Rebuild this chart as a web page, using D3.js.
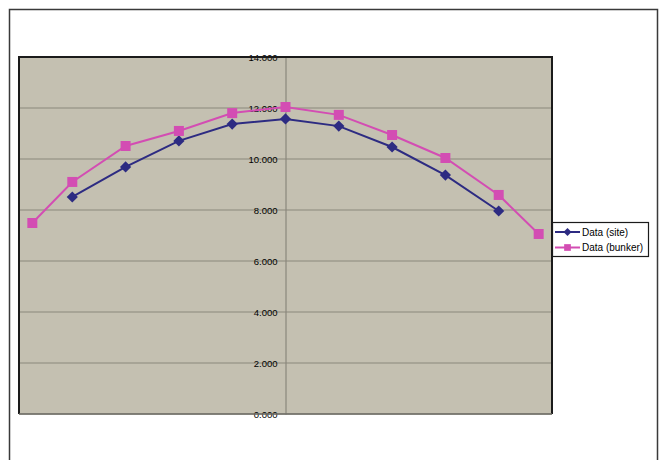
<!DOCTYPE html>
<html>
<head>
<meta charset="utf-8">
<script src="https://cdn.jsdelivr.net/npm/d3@7"></script>
<style>
  html, body { margin: 0; padding: 0; background: #fff; }
  svg { display: block; font-family: Arial, "Liberation Sans", sans-serif; }
</style>
</head>
<body>
<svg id="chart" width="663" height="460"></svg>
<script>
// Measurement positions along the profile
const sitePositions = [-4, -3, -2, -1, 0, 1, 2, 3, 4];
const bunkerPositions = [-4.75, -4, -3, -2, -1, 0, 1, 2, 3, 4, 4.75];

// Series values
const siteValues = [8.51, 9.69, 10.71, 11.37, 11.57, 11.29, 10.47, 9.37, 7.96];
const bunkerValues = [7.49, 9.10, 10.51, 11.10, 11.80, 12.04, 11.73, 10.94, 10.04, 8.59, 7.06];

// Value-axis ticks
const yTicks = [0, 2, 4, 6, 8, 10, 12, 14];

const seriesNames = ["Data (site)", "Data (bunker)"];

const svg = d3.select("#chart");

const plot = { left: 19, top: 57, right: 552, bottom: 414 };

const x = d3.scaleLinear().domain([-5, 5]).range([plot.left, plot.right]);
const y = d3.scaleLinear().domain([0, 14]).range([plot.bottom, plot.top]);

const siteColor = "#2d2b82";
const bunkerColor = "#d34db3";

// Outer chart frame (open at the bottom edge of the page)
svg.append("path")
  .attr("d", "M9.5,470 V9.5 H657.5 V470")
  .attr("fill", "none")
  .attr("stroke", "#3a3a3a")
  .attr("stroke-width", 1.5);

// Plot area background
svg.append("rect")
  .attr("x", plot.left).attr("y", plot.top)
  .attr("width", plot.right - plot.left)
  .attr("height", plot.bottom - plot.top)
  .attr("fill", "#c4c0b1");

// Horizontal gridlines
svg.append("g")
  .selectAll("line")
  .data(yTicks)
  .join("line")
  .attr("x1", plot.left).attr("x2", plot.right)
  .attr("y1", d => y(d)).attr("y2", d => y(d))
  .attr("stroke", "#8a877c")
  .attr("stroke-width", 1.2);

// Value axis crossing at the centre position
const yAxis = d3.axisLeft(y)
  .tickValues(yTicks)
  .tickFormat(d3.format(".3f"))
  .tickSize(0)
  .tickPadding(8);

const axisG = svg.append("g")
  .attr("transform", `translate(${x(0)},0)`)
  .call(yAxis);
axisG.select(".domain").attr("stroke", "#8a877c").attr("stroke-width", 1.2);
axisG.selectAll(".tick text")
  .attr("fill", "#000")
  .attr("font-size", 9.5)
  .attr("font-family", "Arial, 'Liberation Sans', sans-serif");

// Plot area border
svg.append("path")
  .attr("d", `M${plot.left},${plot.bottom} V${plot.top} H${plot.right} V${plot.bottom}`)
  .attr("fill", "none")
  .attr("stroke", "#1b1b1b")
  .attr("stroke-width", 2);
svg.append("line")
  .attr("x1", plot.left).attr("x2", plot.right)
  .attr("y1", plot.bottom).attr("y2", plot.bottom)
  .attr("stroke", "#6e6c66")
  .attr("stroke-width", 1.5);

const line = d3.line().x(d => x(d[0])).y(d => y(d[1]));

const siteData = sitePositions.map((p, i) => [p, siteValues[i]]);
const bunkerData = bunkerPositions.map((p, i) => [p, bunkerValues[i]]);

const diamond = d3.symbol().type(d3.symbolDiamond2).size(80);
const square = d3.symbol().type(d3.symbolSquare).size(100);

function drawSeries(data, color, symbol) {
  const g = svg.append("g");
  g.append("path")
    .datum(data)
    .attr("d", line)
    .attr("fill", "none")
    .attr("stroke", color)
    .attr("stroke-width", 2);
  g.selectAll("path.marker")
    .data(data)
    .join("path")
    .attr("class", "marker")
    .attr("transform", d => `translate(${x(d[0])},${y(d[1])})`)
    .attr("d", symbol)
    .attr("fill", color);
}

drawSeries(siteData, siteColor, diamond);
drawSeries(bunkerData, bunkerColor, square);

// Legend
const legend = svg.append("g").attr("transform", "translate(552,222)");
legend.append("rect")
  .attr("x", 0.5).attr("y", 0.5)
  .attr("width", 96).attr("height", 34)
  .attr("fill", "#fff")
  .attr("stroke", "#1b1b1b")
  .attr("stroke-width", 1.2);

const items = [
  { name: seriesNames[0], color: siteColor, symbol: d3.symbol().type(d3.symbolDiamond2).size(40) },
  { name: seriesNames[1], color: bunkerColor, symbol: d3.symbol().type(d3.symbolSquare).size(45) }
];

items.forEach((it, i) => {
  const cy = 10 + i * 15.5;
  legend.append("line")
    .attr("x1", 3).attr("x2", 28)
    .attr("y1", cy).attr("y2", cy)
    .attr("stroke", it.color)
    .attr("stroke-width", 2);
  legend.append("path")
    .attr("transform", `translate(15.5,${cy})`)
    .attr("d", it.symbol)
    .attr("fill", it.color);
  legend.append("text")
    .attr("x", 30).attr("y", cy)
    .attr("dy", "0.35em")
    .attr("font-size", 10)
    .attr("fill", "#000")
    .text(it.name);
});
</script>
</body>
</html>
